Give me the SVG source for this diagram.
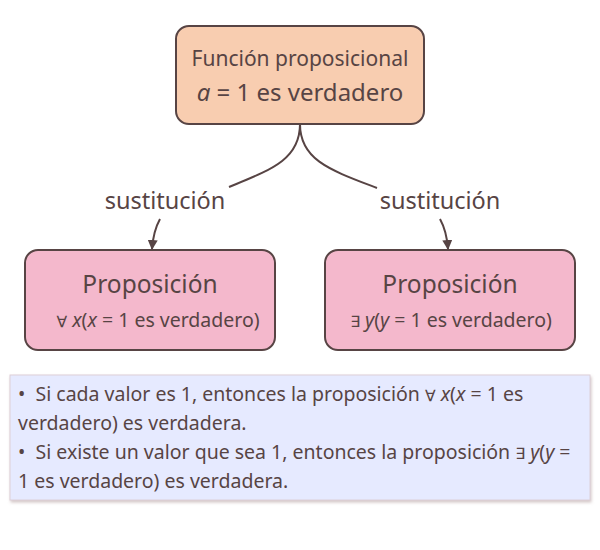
<svg xmlns="http://www.w3.org/2000/svg" width="600" height="550" viewBox="0 0 600 550">
<defs>
<style>
.t{font-family:"Noto Sans","Open Sans",sans-serif;fill:#574444;text-anchor:middle}
.n{font-family:"Noto Sans","Open Sans",sans-serif;fill:#574444;font-size:19.5px}
.q{font-family:"DejaVu Sans",sans-serif;font-size:0.8em}
.box{stroke:#574444;stroke-width:2}
.c{fill:none;stroke:#574444;stroke-width:2}
</style>
<marker id="ah" viewBox="0 0 10 10" refX="9" refY="5" markerWidth="5" markerHeight="5" orient="auto-start-reverse">
<path d="M0,0 L10,5 L0,10 z" fill="#574444"/>
</marker>
<filter id="sh" x="-5%" y="-10%" width="110%" height="125%">
<feDropShadow dx="1" dy="2" stdDeviation="1.5" flood-color="#c8b8b8" flood-opacity="0.8"/>
</filter>
</defs>
<rect width="600" height="550" fill="#ffffff"/>
<g id="connectors">
<path class="c" d="M300,124 C300,160 270,170 229,187"/>
<path class="c" d="M300,124 C300,160 330,170 377,188"/>
<path class="c" d="M160,219 C155,228 153,236 152,249" marker-end="url(#ah)"/>
<path class="c" d="M440,219 C445,228 447,236 448,249" marker-end="url(#ah)"/>
<text class="t" x="165" y="209" font-size="23.5">sustitución</text>
<text class="t" x="440" y="209" font-size="23.5">sustitución</text>
</g>
<g id="top">
<rect class="box" x="176" y="26" width="248" height="98" rx="13" fill="#f8cdb0"/>
<text class="t" x="300" y="66" font-size="21">Función proposicional</text>
<text class="t" x="300" y="101" font-size="24"><tspan font-style="italic">a</tspan> = 1 es verdadero</text>
</g>
<g id="left">
<rect class="box" x="25" y="250" width="250" height="100" rx="13" fill="#f4b8cc"/>
<text class="t" x="150" y="293" font-size="24.5">Proposición</text>
<text class="t" x="158" y="327" font-size="19.5"><tspan class="q">∀</tspan> <tspan font-style="italic">x</tspan>(<tspan font-style="italic">x</tspan> = 1 es verdadero)</text>
</g>
<g id="right">
<rect class="box" x="325" y="250" width="250" height="100" rx="13" fill="#f4b8cc"/>
<text class="t" x="450" y="293" font-size="24.5">Proposición</text>
<text class="t" x="451" y="327" font-size="19.5"><tspan class="q">∃</tspan> <tspan font-style="italic">y</tspan>(<tspan font-style="italic">y</tspan> = 1 es verdadero)</text>
</g>
<g id="note">
<rect x="10" y="375" width="580" height="125" fill="#e6eaff" stroke="#ddd0d8" stroke-width="1" filter="url(#sh)"/>
<text class="n" x="18" y="401" xml:space="preserve">•  Si cada valor es 1, entonces la proposición <tspan class="q">∀</tspan> <tspan font-style="italic">x</tspan>(<tspan font-style="italic">x</tspan> = 1 es</text>
<text class="n" x="18" y="430">verdadero) es verdadera.</text>
<text class="n" x="18" y="459" xml:space="preserve">•  Si existe un valor que sea 1, entonces la proposición <tspan class="q">∃</tspan> <tspan font-style="italic">y</tspan>(<tspan font-style="italic">y</tspan> =</text>
<text class="n" x="18" y="488">1 es verdadero) es verdadera.</text>
</g>
</svg>
